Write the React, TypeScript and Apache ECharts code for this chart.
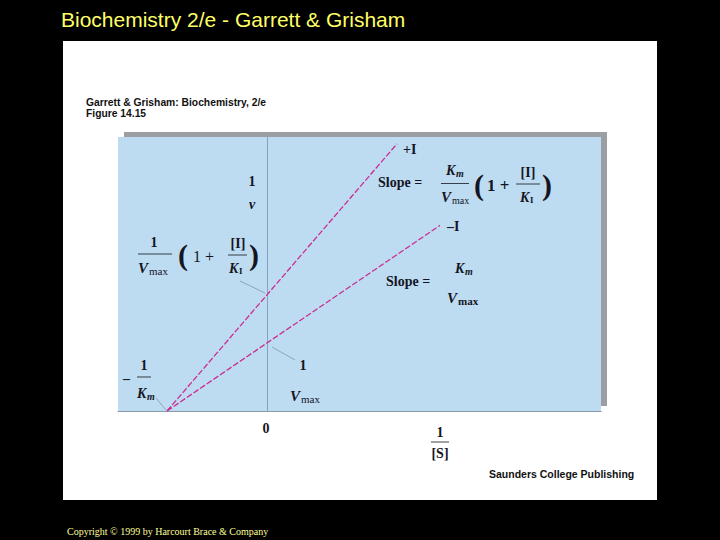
import React, { useEffect, useRef } from "react";
import * as echarts from "echarts";

// Lineweaver–Burk plot data (1/[S], 1/v) in units of 1/Km and 1/Vmax
const plusIX = [-1, 1.3];
const plusIY = [0, 3.93];
const minusIX = [-1, 1.73];
const minusIY = [0, 2.73];
const xRange = [-1.49, 3.34];
const yRange = [0, 4.03];

const SERIF = "'Liberation Serif', 'Times New Roman', serif";
const SANS = "'Liberation Sans', Arial, sans-serif";
const INK = "#15151f";

function txt(text: string, x: number, y: number, o: any = {}) {
  return {
    type: "text",
    x,
    y,
    z: 10,
    style: {
      text,
      fill: o.fill || INK,
      fontSize: o.size || 14,
      fontFamily: o.family || SERIF,
      fontWeight: o.weight || "bold",
      fontStyle: o.italic ? "italic" : "normal",
      align: o.align || "left",
      verticalAlign: "middle",
    },
  };
}
function ln(x1: number, y1: number, x2: number, y2: number, color = INK, w = 0.8) {
  return {
    type: "line",
    z: 10,
    shape: { x1, y1, x2, y2 },
    style: { stroke: color, lineWidth: w },
  };
}
const LEAD = "#7d98ae";

export default function App() {
  const ref = useRef<HTMLDivElement>(null);
  useEffect(() => {
    const chart = echarts.init(ref.current!, null, { renderer: "svg" });
    const graphic: any[] = [
      { type: "rect", z: -2, shape: { x: 63, y: 41, width: 594, height: 459 }, style: { fill: "#ffffff" } },
      { type: "rect", z: -1, shape: { x: 124, y: 132, width: 483, height: 274 }, style: { fill: "#9b9fa3" } },
      txt("Biochemistry 2/e - Garrett & Grisham", 61, 19, { family: SANS, weight: "normal", size: 21, fill: "#ffff66" }),
      txt("Garrett & Grisham: Biochemistry, 2/e", 86, 102, { family: SANS, size: 10.3, fill: "#111" }),
      txt("Figure 14.15", 86, 113, { family: SANS, size: 10.3, fill: "#111" }),
      txt("Saunders College Publishing", 489, 474, { family: SANS, size: 10.5, fill: "#111" }),
      txt("Copyright © 1999 by Harcourt Brace & Company", 67, 531, { weight: "normal", size: 10, fill: "#ffff99" }),
      // +I / -I
      txt("+I", 403, 149),
      txt("–I", 447, 226),
      // upper slope formula
      txt("Slope =", 378, 182),
      txt("K", 446, 170, { italic: true }),
      txt("m", 456, 173, { italic: true, size: 10 }),
      ln(441, 183.5, 469, 183.5),
      txt("V", 441, 197, { italic: true, size: 15 }),
      txt("max", 452, 200, { weight: "normal", size: 10 }),
      txt("(", 474, 184, { size: 30 }),
      txt("1 +", 487, 185, { size: 17 }),
      txt("[I]", 528, 172, { size: 14, align: "center" }),
      ln(516, 184, 540, 184),
      txt("K", 520, 197, { italic: true }),
      txt("I", 530, 200, { size: 9 }),
      txt(")", 542, 184, { size: 30 }),
      // 1/v
      txt("1", 252, 181, { align: "center" }),
      txt("v", 252, 204, { italic: true, align: "center" }),
      // 1/Vmax (1 + [I]/KI)
      txt("1", 154, 242, { align: "center" }),
      ln(138, 254, 172, 254),
      txt("V", 138, 268, { italic: true, size: 15 }),
      txt("max", 149, 271, { weight: "normal", size: 11 }),
      txt("(", 178, 254, { size: 30 }),
      txt("1 +", 193, 256, { weight: "normal", size: 16 }),
      txt("[I]", 238, 243, { size: 14, align: "center" }),
      ln(228, 255, 247, 255),
      txt("K", 229, 268, { italic: true }),
      txt("I", 239, 271, { size: 9 }),
      txt(")", 249, 254, { size: 30 }),
      ln(240, 281, 265, 293, LEAD),
      // lower slope
      txt("Slope =", 386, 281),
      txt("K", 455, 268, { italic: true }),
      txt("m", 465, 271, { italic: true, size: 10 }),
      txt("V", 447, 298, { italic: true, size: 15 }),
      txt("max", 458, 301, { size: 11 }),
      // 1/Vmax intercept
      txt("1", 303, 365, { align: "center" }),
      txt("V", 290, 396, { italic: true, size: 15 }),
      txt("max", 301, 399, { weight: "normal", size: 11 }),
      ln(272, 347, 295, 360, LEAD),
      // -1/Km
      txt("–", 123, 378),
      txt("1", 144, 365, { align: "center" }),
      ln(137, 377, 151, 377),
      txt("K", 137, 393, { italic: true }),
      txt("m", 147, 396, { italic: true, size: 10 }),
      ln(156, 398, 166, 410, LEAD),
      // x labels
      txt("0", 266, 428, { align: "center" }),
      txt("1", 440, 432, { align: "center" }),
      ln(431, 442, 449, 442),
      txt("[S]", 440, 453, { align: "center" }),
    ];
    const lineStyle = { color: "#cc2b94", width: 1.3, type: [6, 2] as any };
    chart.setOption({
      animation: false,
      backgroundColor: "#000000",
      grid: { left: 118, top: 137, right: 119, bottom: 129, show: true, backgroundColor: "#bddcf1", borderWidth: 0 },
      xAxis: {
        type: "value",
        min: xRange[0],
        max: xRange[1],
        axisLine: { show: true, onZero: false, lineStyle: { color: "#8b99a6", width: 1.2 } },
        axisTick: { show: false },
        axisLabel: { show: false },
        splitLine: { show: false },
      },
      yAxis: {
        type: "value",
        min: yRange[0],
        max: yRange[1],
        axisLine: { show: true, onZero: true, lineStyle: { color: "#86a3bc", width: 1 } },
        axisTick: { show: false },
        axisLabel: { show: false },
        splitLine: { show: false },
      },
      series: [
        { type: "line", name: "+I", showSymbol: false, lineStyle, data: plusIX.map((x, i) => [x, plusIY[i]]) },
        { type: "line", name: "-I", showSymbol: false, lineStyle, data: minusIX.map((x, i) => [x, minusIY[i]]) },
      ],
      graphic,
    });
    return () => chart.dispose();
  }, []);
  return <div ref={ref} style={{ position: "fixed", left: 0, top: 0, width: 720, height: 540 }} />;
}
